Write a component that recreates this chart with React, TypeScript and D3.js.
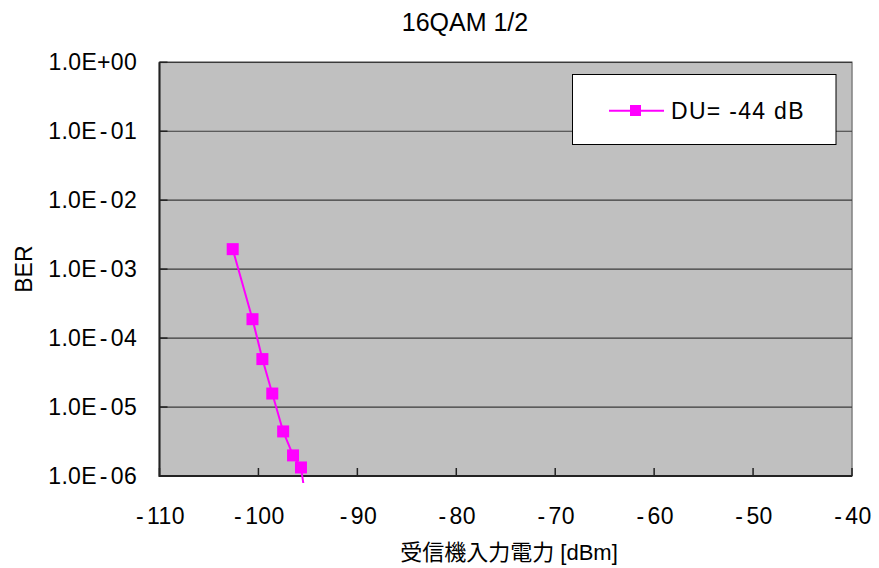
import React from "react";
import * as d3 from "d3";

// chart values
const title = "16QAM 1/2";
const xTicks = [-110, -100, -90, -80, -70, -60, -50, -40];
const yTicks = [1e0, 1e-1, 1e-2, 1e-3, 1e-4, 1e-5, 1e-6];
const yTickLabels = ["1.0E+00", "1.0E-01", "1.0E-02", "1.0E-03", "1.0E-04", "1.0E-05", "1.0E-06"];
const seriesName = "DU= -44 dB";
const power = [-102.6, -100.6, -99.6, -98.6, -97.5, -96.5, -95.7, -95.0];
const ber = [1.95e-3, 1.88e-4, 4.96e-5, 1.57e-5, 4.43e-6, 1.99e-6, 1.33e-6, 2.8e-7];

const W = 879;
const H = 568;
const plot = { left: 159.5, right: 852, top: 62.3, bottom: 476 };
const font = "'Liberation Sans', Arial, sans-serif";
const cjk = "'Liberation Sans', 'Noto Sans CJK JP', sans-serif";
const magenta = "#ff00ff";

// excel's japanese font puts a little air around the minus sign
const spaced = (s: string) => {
    const parts = s.split("-");
    if (parts.length === 1) return s;
    return [
        <tspan key="a">{parts[0]}</tspan>,
        <tspan key="m" dx={parts[0] ? 3 : 0}>-</tspan>,
        <tspan key="b" dx={3}>{parts.slice(1).join("-")}</tspan>,
    ];
};

const App = () => {
    const x = d3.scaleLinear().domain([-110, -40]).range([plot.left, plot.right]);
    const y = d3.scaleLog().domain([1e-6, 1]).range([plot.bottom, plot.top]);

    const points = power.map((p, i) => ({ p, b: ber[i] }));
    const line = d3
        .line<{ p: number; b: number }>()
        .x(d => x(d.p))
        .y(d => y(d.b));

    const pw = plot.right - plot.left;
    const ph = plot.bottom - plot.top;

    return (
        <svg
            width={W}
            height={H}
            style={{ position: "absolute", left: 0, top: 0, background: "#fff" }}
        >
            <defs>
                <clipPath id="seriesClip">
                    <rect x={plot.left} y={plot.top - 8} width={pw} height={ph + 15} />
                </clipPath>
            </defs>

            <text x={465} y={31} textAnchor="middle" fontFamily={font} fontSize={25}>
                {title}
            </text>

            {/* plot area */}
            <rect x={plot.left} y={plot.top} width={pw} height={ph} fill="#c0c0c0" stroke="#808080" strokeWidth={1.5} />

            {yTicks.map((t, i) => (
                <g key={"y" + i}>
                    <line x1={plot.left} x2={plot.right} y1={y(t)} y2={y(t)} stroke="#3a3a3a" strokeWidth={1.2} />
                    <line x1={plot.left} x2={plot.left + 8} y1={y(t)} y2={y(t)} stroke="#222" strokeWidth={1.5} />
                    <text
                        x={137}
                        y={y(t) + 8}
                        textAnchor="end"
                        fontFamily={font}
                        fontSize={23}
                        letterSpacing={0.3}
                    >
                        {spaced(yTickLabels[i])}
                    </text>
                </g>
            ))}

            {xTicks.map(t => (
                <g key={"x" + t}>
                    <line x1={x(t)} x2={x(t)} y1={plot.bottom} y2={plot.bottom - 8} stroke="#222" strokeWidth={1.5} />
                    <text
                        x={x(t) + 1}
                        y={523.5}
                        textAnchor="middle"
                        fontFamily={font}
                        fontSize={23}
                        letterSpacing={0.4}
                    >
                        {spaced(String(t))}
                    </text>
                </g>
            ))}

            {/* axes */}
            <line x1={plot.left} x2={plot.left} y1={plot.top} y2={plot.bottom + 1} stroke="#222" strokeWidth={2} />
            <line x1={plot.left} x2={plot.right} y1={plot.bottom} y2={plot.bottom} stroke="#222" strokeWidth={2} />

            {/* series */}
            <g clipPath="url(#seriesClip)">
                <path d={line(points) || ""} fill="none" stroke={magenta} strokeWidth={2} />
                {points.map((d, i) => (
                    <rect key={i} x={x(d.p) - 6} y={y(d.b) - 6} width={12} height={12} fill={magenta} />
                ))}
            </g>

            {/* legend */}
            <rect x={572.5} y={74.5} width={263.5} height={70} fill="#fff" stroke="#000" strokeWidth={1} />
            <line x1={609} x2={664} y1={110.7} y2={110.7} stroke={magenta} strokeWidth={2} />
            <rect x={630} y={105} width={11} height={11} fill={magenta} />
            <text x={671} y={119} fontFamily={font} fontSize={23} letterSpacing={1.3}>
                {seriesName}
            </text>

            {/* axis titles */}
            <text
                transform={`translate(32, ${(plot.top + plot.bottom) / 2}) rotate(-90)`}
                textAnchor="middle"
                fontFamily={font}
                fontSize={23}
            >
                BER
            </text>
            <text x={509} y={560} textAnchor="middle" fontFamily={cjk} fontSize={22}>
                受信機入力電力 [dBm]
            </text>
        </svg>
    );
};

export default App;
